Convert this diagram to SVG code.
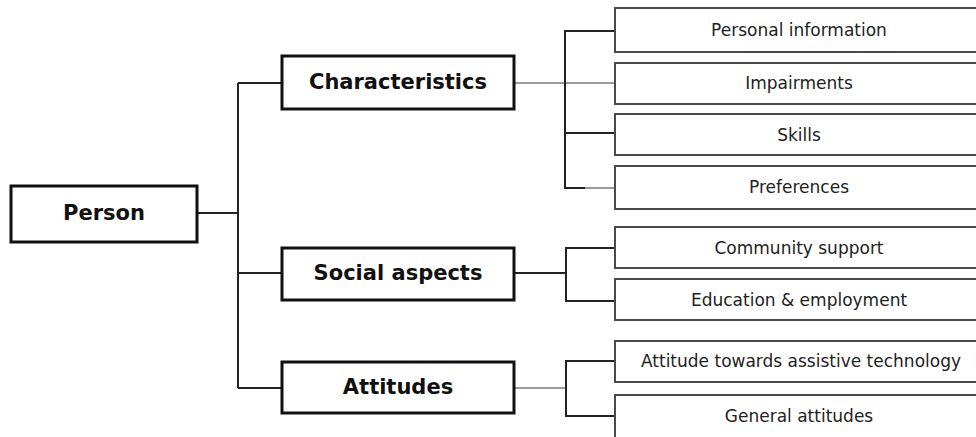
<svg xmlns="http://www.w3.org/2000/svg" width="976" height="437" viewBox="0 0 976 437">
<style>
.main{fill:#fff;stroke:#111;stroke-width:3}
.sub{fill:#fff;stroke:#4a4a4a;stroke-width:2}
.mt{font-family:"DejaVu Sans",Verdana,sans-serif;font-weight:bold;font-size:21px;fill:#111;text-anchor:middle;dominant-baseline:central}
.st{font-family:"DejaVu Sans",Verdana,sans-serif;font-size:17px;fill:#222;text-anchor:middle;dominant-baseline:central}
.c{fill:none;stroke:#222;stroke-width:2}
.g{fill:none;stroke:#9a9a9a;stroke-width:2}
</style>
<rect width="976" height="437" fill="#fff"/>
<g id="connectors">
<path class="c" d="M197 213H238M238 83V388M238 83H282M238 273H282M238 388H282"/>
<path class="g" d="M514 83H615"/>
<path class="c" d="M615 31H565V188H585M565 133H615"/>
<path class="g" d="M585 188H615"/>
<path class="c" d="M514 273H566M615 248H566V301H615"/>
<path class="g" d="M514 388H566"/>
<path class="c" d="M615 361H566V416H615"/>
</g>
<g id="person"><rect class="main" x="11" y="186" width="186" height="56"/><text class="mt" x="104" y="213">Person</text></g>
<g id="characteristics"><rect class="main" x="282" y="56" width="232" height="53"/><text class="mt" x="398" y="82">Characteristics</text></g>
<g id="social"><rect class="main" x="282" y="248" width="232" height="52"/><text class="mt" x="398" y="273">Social aspects</text></g>
<g id="attitudes"><rect class="main" x="282" y="362" width="232" height="51"/><text class="mt" x="398" y="387">Attitudes</text></g>
<g id="personal"><rect class="sub" x="615" y="8" width="400" height="44"/><text class="st" x="799" y="30">Personal information</text></g>
<g id="impairments"><rect class="sub" x="615" y="63" width="400" height="41"/><text class="st" x="799" y="83">Impairments</text></g>
<g id="skills"><rect class="sub" x="615" y="114" width="400" height="41"/><text class="st" x="799" y="135">Skills</text></g>
<g id="preferences"><rect class="sub" x="615" y="166" width="400" height="43"/><text class="st" x="799" y="187">Preferences</text></g>
<g id="community"><rect class="sub" x="615" y="227" width="400" height="41"/><text class="st" x="799" y="248">Community support</text></g>
<g id="education"><rect class="sub" x="615" y="279" width="400" height="41"/><text class="st" x="799" y="300">Education &amp; employment</text></g>
<g id="attitude-at"><rect class="sub" x="615" y="341" width="400" height="41"/><text class="st" x="801" y="361">Attitude towards assistive technology</text></g>
<g id="general"><rect class="sub" x="615" y="395" width="400" height="50"/><text class="st" x="799" y="416">General attitudes</text></g>
</svg>
